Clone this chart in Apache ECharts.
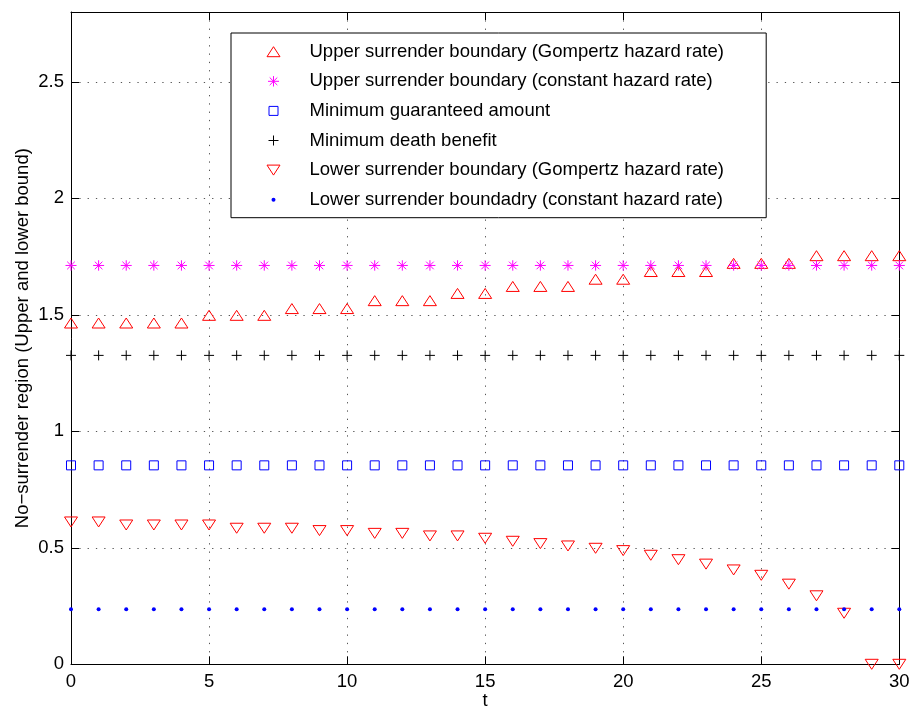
<!DOCTYPE html>
<html>
<head>
<meta charset="utf-8">
<script src="https://cdn.jsdelivr.net/npm/echarts@6/dist/echarts.min.js"></script>
<style>
  html, body { margin: 0; padding: 0; background: #ffffff; }
  #chart { width: 911px; height: 707px; }
</style>
</head>
<body>
<div id="chart"></div>
<script>
// Time points (years)
const tValues = [0, 1, 2, 3, 4, 5, 6, 7, 8, 9, 10, 11, 12, 13, 14, 15,
                 16, 17, 18, 19, 20, 21, 22, 23, 24, 25, 26, 27, 28, 29, 30];

const upperGompertz = [1.465, 1.465, 1.465, 1.465, 1.465, 1.498, 1.498, 1.498,
                       1.527, 1.527, 1.527, 1.561, 1.561, 1.561, 1.592, 1.592,
                       1.622, 1.622, 1.622, 1.653, 1.653, 1.686, 1.686, 1.686,
                       1.721, 1.721, 1.721, 1.754, 1.754, 1.754, 1.754];

const upperConstant = [1.712, 1.712, 1.712, 1.712, 1.712, 1.712, 1.712, 1.712,
                       1.712, 1.712, 1.712, 1.712, 1.712, 1.712, 1.712, 1.712,
                       1.712, 1.712, 1.712, 1.712, 1.712, 1.712, 1.712, 1.712,
                       1.712, 1.712, 1.712, 1.712, 1.712, 1.712, 1.712];

const minGuaranteed = [0.854, 0.854, 0.854, 0.854, 0.854, 0.854, 0.854, 0.854,
                       0.854, 0.854, 0.854, 0.854, 0.854, 0.854, 0.854, 0.854,
                       0.854, 0.854, 0.854, 0.854, 0.854, 0.854, 0.854, 0.854,
                       0.854, 0.854, 0.854, 0.854, 0.854, 0.854, 0.854];

const minDeathBenefit = [1.326, 1.326, 1.326, 1.326, 1.326, 1.326, 1.326, 1.326,
                         1.326, 1.326, 1.326, 1.326, 1.326, 1.326, 1.326, 1.326,
                         1.326, 1.326, 1.326, 1.326, 1.326, 1.326, 1.326, 1.326,
                         1.326, 1.326, 1.326, 1.326, 1.326, 1.326, 1.326];

const lowerGompertz = [0.611, 0.611, 0.598, 0.598, 0.598, 0.598, 0.584, 0.584,
                       0.584, 0.574, 0.574, 0.562, 0.562, 0.551, 0.551, 0.541,
                       0.528, 0.518, 0.508, 0.498, 0.488, 0.468, 0.449, 0.430,
                       0.405, 0.382, 0.344, 0.294, 0.219, 0, 0];

const lowerConstant = [0.236, 0.236, 0.236, 0.236, 0.236, 0.236, 0.236, 0.236,
                       0.236, 0.236, 0.236, 0.236, 0.236, 0.236, 0.236, 0.236,
                       0.236, 0.236, 0.236, 0.236, 0.236, 0.236, 0.236, 0.236,
                       0.236, 0.236, 0.236, 0.236, 0.236, 0.236, 0.236];

const seriesNames = [
  'Upper surrender boundary (Gompertz hazard rate)',
  'Upper surrender boundary (constant hazard rate)',
  'Minimum guaranteed amount',
  'Minimum death benefit',
  'Lower surrender boundary (Gompertz hazard rate)',
  'Lower surrender boundadry (constant hazard rate)'
];

const xTicks = { min: 0, max: 30, step: 5 };
const yTicks = { min: 0, max: 2.8, step: 0.5 };

// Marker glyphs, each drawn inside a fixed 14x14 frame so that
// series markers and legend icons keep the same natural size.
const FRAME = 'M0,0M14,14';
const MARK = {
  triUp:   'path://' + FRAME + 'M0.5,12L7,2L13.5,12Z',
  triDown: 'path://' + FRAME + 'M0.5,2L13.5,2L7,12Z',
  star:    'path://' + FRAME + 'M7,1.8L7,12.2M1.5,7L12.5,7M3.2,3.2L10.8,10.8M10.8,3.2L3.2,10.8',
  plus:    'path://' + FRAME + 'M7,2L7,12M2,7L12,7',
  square:  'path://' + FRAME + 'M2.5,2.5L11.5,2.5L11.5,11.5L2.5,11.5Z',
  dot:     'path://' + FRAME + 'M9,7A2,2,0,1,1,5,7A2,2,0,1,1,9,7Z'
};

const FONT = 'Liberation Sans, Arial, Helvetica, sans-serif';
const CLEAR = 'rgba(0,0,0,0)';

function pairs(values) {
  return tValues.map((t, i) => [t, values[i]]);
}

function markerSeries(name, values, symbol, stroke, fill, lineWidth) {
  return {
    name: name,
    type: 'scatter',
    data: pairs(values),
    symbol: symbol,
    symbolSize: 14,
    clip: false,
    itemStyle: { color: fill, borderColor: stroke, borderWidth: lineWidth, opacity: 1 },
    emphasis: { disabled: true },
    z: 3
  };
}

const chart = echarts.init(document.getElementById('chart'), null, { renderer: 'canvas' });

const gridLine = { show: true, lineStyle: { color: '#555555', width: 1, type: [1.3, 7] } };
const frameLine = { show: true, onZero: false, lineStyle: { color: '#000000', width: 1 } };
const innerTick = { show: true, inside: true, length: 8, lineStyle: { color: '#000000', width: 1 } };

chart.setOption({
  animation: false,
  backgroundColor: '#ffffff',
  textStyle: { fontFamily: FONT },
  grid: { left: 71, right: 11.7, top: 12, bottom: 42.7, containLabel: false, outerBoundsMode: 'none' },
  xAxis: [
    {
      type: 'value', position: 'bottom',
      min: xTicks.min, max: xTicks.max, interval: xTicks.step,
      axisLine: frameLine, axisTick: innerTick, splitLine: gridLine,
      axisLabel: { color: '#000', fontSize: 18.5, fontFamily: FONT, margin: 8 },
      name: 't', nameLocation: 'middle', nameGap: 27, nameMoveOverlap: false,
      nameTextStyle: { color: '#000', fontSize: 18.5, fontFamily: FONT }
    },
    {
      type: 'value', position: 'top',
      min: xTicks.min, max: xTicks.max, interval: xTicks.step,
      axisLine: frameLine, axisTick: innerTick,
      splitLine: { show: false }, axisLabel: { show: false }
    }
  ],
  yAxis: [
    {
      type: 'value', position: 'left',
      min: yTicks.min, max: yTicks.max, interval: yTicks.step,
      axisLine: frameLine, axisTick: innerTick, splitLine: gridLine,
      axisLabel: {
        color: '#000', fontSize: 18.5, fontFamily: FONT, margin: 7,
        formatter: v => (Math.abs(v / yTicks.step - Math.round(v / yTicks.step)) < 1e-9 ? String(v) : '')
      },
      name: 'No\u2212surrender region (Upper and lower bound)',
      nameLocation: 'middle', nameGap: 39, nameMoveOverlap: false,
      nameTextStyle: { color: '#000', fontSize: 18.5, fontFamily: FONT }
    },
    {
      type: 'value', position: 'right',
      min: yTicks.min, max: yTicks.max, interval: yTicks.step,
      axisLine: frameLine, axisTick: innerTick,
      splitLine: { show: false }, axisLabel: { show: false }
    }
  ],
  legend: {
    orient: 'vertical',
    left: 231, top: 33,
    padding: [9.2, 42.3, 8.5, 35],
    itemWidth: 62, itemHeight: 14, itemGap: 10.6,
    backgroundColor: '#ffffff',
    borderColor: '#000000', borderWidth: 1, borderRadius: 0,
    selectedMode: false,
    itemStyle: { borderWidth: 1 },
    textStyle: { color: '#000', fontSize: 18.5, fontFamily: FONT, lineHeight: 16 },
    data: [
      { name: seriesNames[0] },
      { name: seriesNames[1] },
      { name: seriesNames[2] },
      { name: seriesNames[3] },
      { name: seriesNames[4] },
      { name: seriesNames[5], itemStyle: { borderWidth: 0 } }
    ]
  },
  series: [
    markerSeries(seriesNames[0], upperGompertz, MARK.triUp, '#ff0000', CLEAR, 1),
    markerSeries(seriesNames[1], upperConstant, MARK.star, '#ff00ff', CLEAR, 1),
    markerSeries(seriesNames[2], minGuaranteed, MARK.square, '#0000ff', CLEAR, 1),
    markerSeries(seriesNames[3], minDeathBenefit, MARK.plus, '#000000', CLEAR, 1),
    markerSeries(seriesNames[4], lowerGompertz, MARK.triDown, '#ff0000', CLEAR, 1),
    markerSeries(seriesNames[5], lowerConstant, MARK.dot, '#0000ff', '#0000ff', 0)
  ]
});
</script>
</body>
</html>
